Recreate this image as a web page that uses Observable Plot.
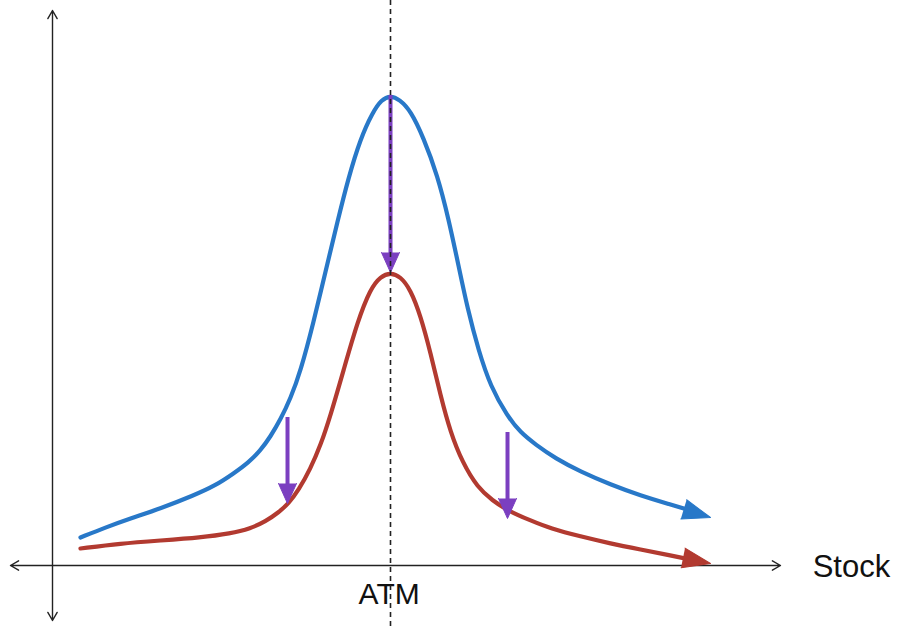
<!DOCTYPE html>
<html>
<head>
<meta charset="utf-8">
<script src="https://cdn.jsdelivr.net/npm/d3@7"></script>
<script src="https://cdn.jsdelivr.net/npm/@observablehq/plot@0.6"></script>
<style>
  html, body { margin: 0; padding: 0; background: #fff; }
</style>
</head>
<body>
<div id="chart"></div>
<script>
// Stock price (ATM = 100) and option sensitivity (peak = 100)
const blueX = [8.28, 15.68, 23.08, 31.95, 41.72, 48.22, 53.55, 57.99, 61.54, 64.50, 67.46, 70.41, 73.37, 77.22, 80.77, 84.32, 87.57, 91.12, 94.67, 97.34, 100,
               102.66, 105.92, 109.76, 113.91, 117.16, 120.12, 122.78, 126.04, 129.59, 134.62, 138.46, 142.90, 148.82, 156.21, 165.09, 173.96, 182.84, 188.76];
const blueY = [5.96, 8.09, 10.00, 12.13, 14.89, 17.02, 19.57, 21.91, 24.47, 27.45, 31.06, 35.53, 41.28, 51.70, 62.55, 73.19, 82.55, 90.85, 96.38, 99.15, 100,
               99.15, 96.81, 91.06, 82.98, 73.83, 63.83, 54.68, 45.74, 38.09, 31.70, 28.30, 25.74, 22.77, 19.98, 17.23, 14.89, 12.98, 11.70];
const redX = [8.28, 20.12, 31.95, 43.79, 52.66, 58.58, 63.02, 66.86, 69.82, 72.78, 76.33, 79.29, 82.25, 86.09, 90.24, 94.08, 97.04, 100,
              102.96, 105.92, 108.88, 111.83, 114.79, 117.75, 121.30, 125.74, 130.18, 134.62, 141.42, 147.34, 156.21, 165.09, 173.96, 182.84, 188.76];
const redY = [3.62, 4.68, 5.32, 5.96, 6.81, 7.87, 9.36, 11.28, 13.19, 15.96, 20.64, 25.53, 31.91, 41.49, 51.91, 58.94, 61.49, 62.34,
              61.49, 58.72, 53.19, 45.32, 36.17, 28.30, 21.91, 16.60, 13.83, 11.70, 9.57, 7.87, 6.17, 4.68, 3.40, 2.13, 1.28];
const tipX = [194.67, 194.67];      // blue, red curve arrow tips
const tipY = [10.21, 0.43];
const shiftX = [100, 69.53, 134.62]; // purple shift arrows
const shiftFrom = [100, 31.49, 28.30];
const shiftTo = [62.34, 13.19, 10.0];
const axisEnds = {left: -12.43, right: 215.38, top: 118.09, bottom: -11.70};
const atmX = 100;
const labels = ["Stock", "ATM"];

const blue = "#2878c8", red = "#b23a30", purple = "#7b3fc0";

const blueData = blueX.map((x, i) => ({x, y: blueY[i]}));
const redData = redX.map((x, i) => ({x, y: redY[i]}));
const tipData = [
  {x: tipX[0], y: tipY[0], c: blue, rot: 107},
  {x: tipX[1], y: tipY[1], c: red, rot: 101.5}
];
const shiftData = shiftX.map((x, i) => ({x, y1: shiftFrom[i], y2: shiftTo[i]}));
const axisData = [
  {x1: 0, y1: 0, x2: axisEnds.left, y2: 0},
  {x1: 0, y1: 0, x2: axisEnds.right, y2: 0},
  {x1: 0, y1: 0, x2: 0, y2: axisEnds.top},
  {x1: 0, y1: 0, x2: 0, y2: axisEnds.bottom}
];

const chart = Plot.plot({
  width: 901,
  height: 628,
  margin: 0,
  x: {domain: [0, 100], range: [52, 390], axis: null},
  y: {domain: [0, 100], range: [565, 95], axis: null},
  style: {fontFamily: "'Liberation Sans', Arial, Helvetica, sans-serif", background: "#fff", overflow: "visible"},
  marks: [
    Plot.arrow(axisData, {x1: "x1", y1: "y1", x2: "x2", y2: "y2", stroke: "#222", strokeWidth: 1.4, headLength: 10}),
    Plot.line(blueData, {x: "x", y: "y", stroke: blue, strokeWidth: 4.2, curve: "basis"}),
    Plot.line(redData, {x: "x", y: "y", stroke: red, strokeWidth: 4.2, curve: "basis"}),
    Plot.vector(tipData, {x: "x", y: "y", rotate: "rot", length: 28, r: 10, shape: "spike", anchor: "end", fill: d => d.c, stroke: d => d.c, strokeWidth: 1}),
    Plot.ruleX(shiftData, {x: "x", y1: "y1", y2: d => d.y2 + 3, stroke: purple, strokeWidth: 4}),
    Plot.vector(shiftData, {x: "x", y: "y2", rotate: 180, length: 20, r: 9, shape: "spike", anchor: "end", fill: purple, stroke: purple, strokeWidth: 1}),
    Plot.text([labels[0]], {x: 224.9, y: -2.55, text: d => d, textAnchor: "start", lineAnchor: "bottom", fontSize: 31, fill: "#111"}),
    Plot.text([labels[1]], {x: atmX - 0.4, y: -8.09, text: d => d, textAnchor: "middle", lineAnchor: "bottom", fontSize: 30, fill: "#111"}),
    Plot.ruleX([atmX], {stroke: "#222", strokeWidth: 1.6, strokeDasharray: "5,4"})
  ]
});
document.getElementById("chart").appendChild(chart);
</script>
</body>
</html>
